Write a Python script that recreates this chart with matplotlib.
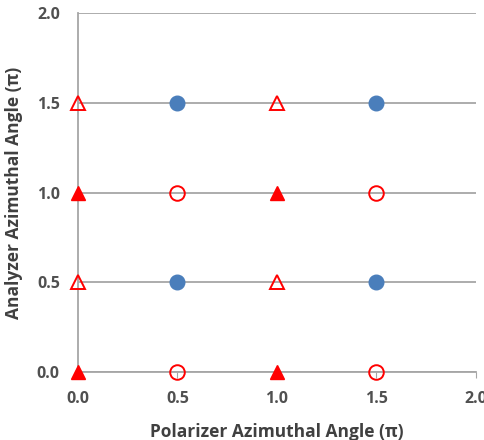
import matplotlib
matplotlib.use("Agg")
import matplotlib.pyplot as plt

# data
blue_filled_x = [0.5, 1.5, 0.5, 1.5]
blue_filled_y = [1.5, 1.5, 0.5, 0.5]
red_open_tri_x = [0.0, 1.0, 0.0, 1.0]
red_open_tri_y = [1.5, 1.5, 0.5, 0.5]
red_filled_tri_x = [0.0, 1.0, 0.0, 1.0]
red_filled_tri_y = [1.0, 1.0, 0.0, 0.0]
red_open_circ_x = [0.5, 1.5, 0.5, 1.5]
red_open_circ_y = [1.0, 1.0, 0.0, 0.0]
ticks = [0.0, 0.5, 1.0, 1.5, 2.0]
tick_labels = ["0.0", "0.5", "1.0", "1.5", "2.0"]

plt.rcParams['font.family'] = ['Open Sans', 'DejaVu Sans']
fig = plt.figure(figsize=(4.84, 4.40), dpi=100)
ax = fig.add_axes([0.161, 0.1545, 0.822, 0.8155])

grid_c = "#a6a6a6"
for t in ticks:
    ax.axhline(t, color=grid_c, lw=1.3, zorder=1)

ax.plot(blue_filled_x, blue_filled_y, 'o', ms=10.5, color="#4a7ebb", ls='none', clip_on=False, zorder=3)
ax.plot(red_open_tri_x, red_open_tri_y, '^', ms=10.5, mfc='none', mec='#ff0000', mew=1.4, ls='none', clip_on=False, zorder=3)
ax.plot(red_filled_tri_x, red_filled_tri_y, '^', ms=10.5, color='#ff0000', ls='none', clip_on=False, zorder=3)
ax.plot(red_open_circ_x, red_open_circ_y, 'o', ms=10.5, mfc='none', mec='#ff0000', mew=1.4, ls='none', clip_on=False, zorder=3)

ax.set_xlim(0, 2)
ax.set_ylim(0, 2)
ax.set_xticks(ticks)
ax.set_xticklabels(tick_labels)
ax.set_yticks(ticks)
ax.set_yticklabels(tick_labels)
for s in ['top', 'right']:
    ax.spines[s].set_visible(False)
for s in ['left', 'bottom']:
    ax.spines[s].set_color(grid_c)
    ax.spines[s].set_linewidth(1.3)
ax.tick_params(axis='y', length=0, pad=13)
ax.tick_params(axis='x', length=4, color=grid_c, direction='out', pad=10)
for lab in ax.get_xticklabels() + ax.get_yticklabels():
    lab.set_fontweight('bold')
    lab.set_color('#505050')
    lab.set_fontsize(11.5)

ax.set_xlabel("Polarizer Azimuthal Angle (π)", fontsize=12.5, fontweight='bold', color='#404040', labelpad=11)
ax.set_ylabel("Analyzer Azimuthal Angle (π)", fontsize=12.5, fontweight='bold', color='#404040', labelpad=10)

fig.savefig("out.png", dpi=100)
